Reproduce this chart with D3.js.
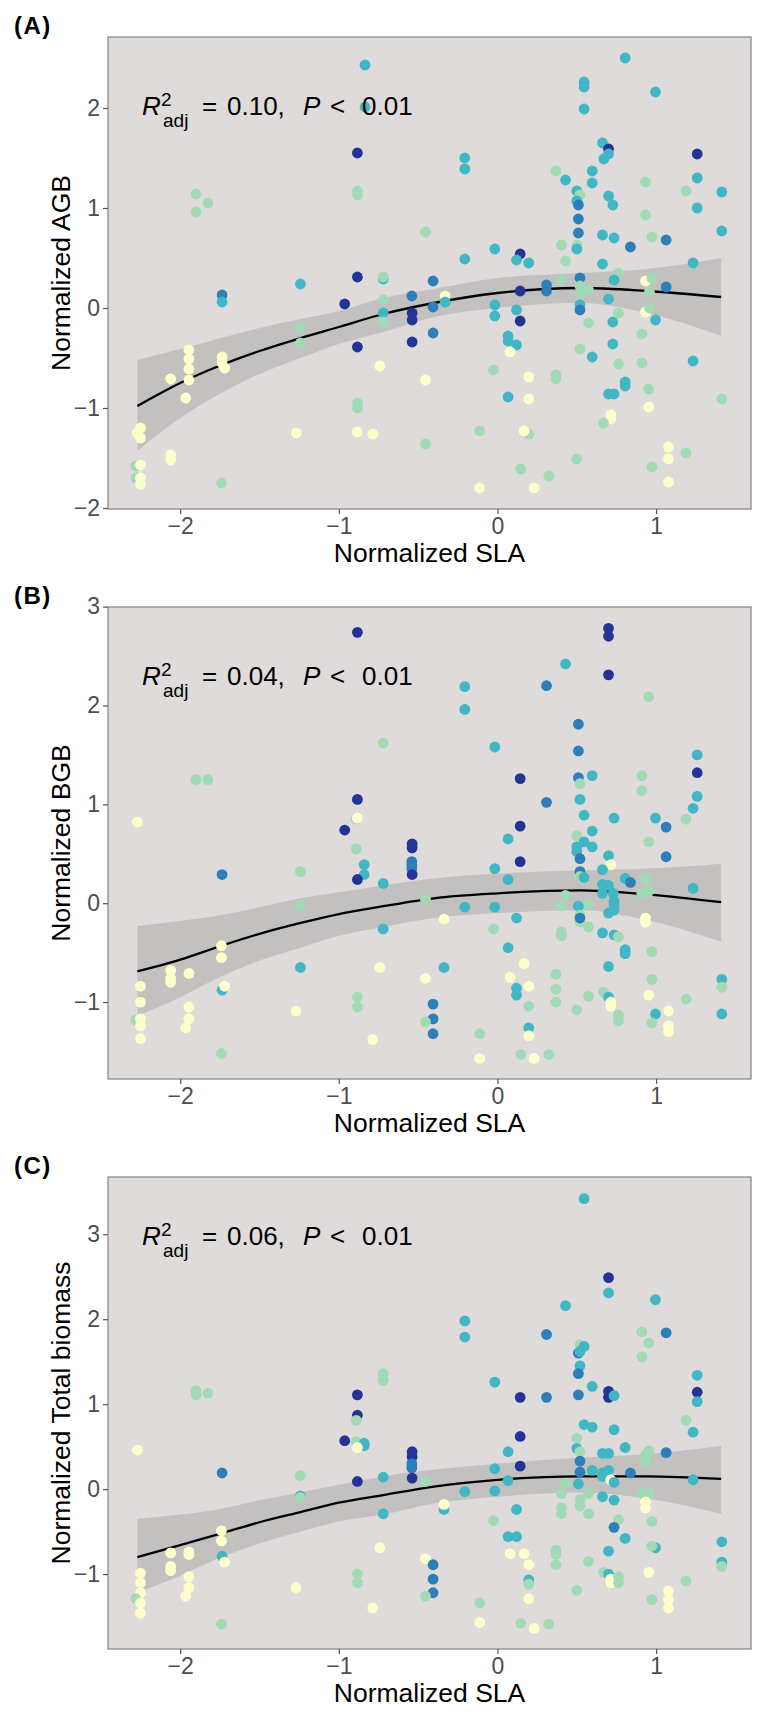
<!DOCTYPE html>
<html>
<head>
<meta charset="utf-8">
<script src="https://cdn.jsdelivr.net/npm/d3@7"></script>
<style>
  body { margin: 0; background: #fff; }
  svg text { font-family: "Liberation Sans", Arial, Helvetica, sans-serif; }
</style>
</head>
<body>
<div id="svg-area"></div>
<script>
// Site colours (YlGnBu, 5 classes) indexed by site group
var siteColors = ['#ffffcc', '#a1dab4', '#41b6c4', '#2c7fb8', '#253494'];

var xTicks = [-2, -1, 0, 1];
var xDomain = [-2.455, 1.598];

// PANEL A : AGB
var slaA = [-0.835,-0.835,-0.883,-0.883,-0.883,-1.90,-1.90,-1.825,-1.736,-1.736,
  -1.242,-0.883,-0.72,-0.72,-0.963,-0.72,-0.72,-0.72,-1.242,-1.242,
  -0.883,-0.742,-1.945,-1.945,-1.945,-1.945,-2.06,-1.965,-1.736,-1.736,
  -1.72,-0.883,-0.883,-1.268,-0.883,-0.786,-2.25,-2.27,-2.25,-2.28,
  -2.25,-2.28,-2.25,-2.25,-2.06,-2.06,-1.74,0.805,0.546,0.546,
  0.546,0.996,0.662,0.70,0.70,0.67,1.259,-0.206,-0.206,0.368,
  0.429,0.597,0.597,1.259,0.933,1.189,1.414,0.50,0.52,0.50,
  0.51,0.70,0.727,1.259,0.933,0.51,0.51,0.662,0.735,0.973,
  1.063,0.838,1.414,-0.454,0.403,0.50,0.50,-0.017,0.429,0.143,
  0.12,0.197,-0.206,0.662,1.233,0.763,-0.406,0.403,0.52,0.735,
  0.933,0.973,0.143,0.309,0.309,0.52,0.574,0.52,0.958,1.063,
  -0.54,-0.33,-0.33,0.70,-0.406,-0.017,0.52,0.52,-0.538,-0.538,
  -0.017,0.12,0.763,0.933,0.958,0.143,0.996,0.574,0.727,-0.538,
  -0.406,-0.454,-0.454,0.067,0.067,0.12,0.08,-0.025,0.197,0.368,
  0.368,0.067,0.197,-0.112,0.197,0.168,0.147,0.323,-0.112,0.231,
  0.50,0.52,0.597,0.727,0.763,0.91,0.91,0.805,0.805,0.70,
  0.735,0.953,0.953,0.714,0.714,0.668,1.078,1.078,1.078,1.189,
  0.973,1.233,1.414];
var agb = [2.43,2.01,1.55,1.17,1.13,1.14,0.96,1.05,0.13,0.06,
  0.24,0.31,0.29,0.31,0.04,0.08,-0.05,-0.14,-0.19,-0.35,
  -0.39,-0.58,-0.42,-0.51,-0.61,-0.72,-0.71,-0.90,-0.49,-0.55,
  -0.60,-0.95,-1.00,-1.25,-1.24,-1.26,-1.20,-1.25,-1.30,-1.58,
  -1.57,-1.70,-1.70,-1.76,-1.47,-1.52,-1.75,2.50,2.26,2.21,
  1.99,2.16,1.65,1.59,1.54,1.49,1.54,1.50,1.39,1.37,
  1.28,1.37,1.25,1.30,1.26,1.17,1.16,1.17,1.13,1.07,
  1.03,1.12,1.03,1.00,0.93,0.89,0.75,0.73,0.70,0.71,
  0.68,0.61,0.77,0.76,0.63,0.63,0.59,0.59,0.47,0.54,
  0.48,0.45,0.49,0.44,0.45,0.35,0.27,0.28,0.30,0.28,
  0.27,0.30,0.17,0.23,0.17,0.22,0.18,0.15,0.16,0.21,
  0.12,0.12,0.06,0.09,0.01,0.03,0.03,-0.02,-0.05,-0.12,
  -0.08,-0.02,-0.05,-0.04,0.00,-0.13,-0.12,-0.15,-0.14,-0.34,
  -0.25,-0.72,-1.36,-0.28,-0.33,-0.37,-0.44,-0.62,-0.69,-0.67,
  -0.71,-0.89,-0.91,-1.23,-1.26,-1.23,-1.61,-1.68,-1.80,-1.80,
  -1.51,-0.41,-0.49,-0.36,-0.56,-0.26,-0.55,-0.74,-0.78,-0.86,
  -0.86,-0.81,-0.99,-1.07,-1.11,-1.15,-1.39,-1.51,-1.74,-1.45,
  -1.59,-0.53,-0.91];
var siteA = [2,2,4,1,1,1,1,1,3,2, 2,4,2,1,4,1,2,1,1,1, 4,0,0,0,0,0,0,0,0,0,
  0,1,1,0,0,0,0,0,0,1, 0,1,0,0,0,0,1,2,2,2, 2,2,2,4,2,2,4,2,2,1,
  2,2,2,2,1,1,2,2,1,2, 3,2,2,2,1,3,3,2,2,1, 3,3,2,1,1,1,2,2,1,4,
  2,2,2,2,2,1,3,1,3,2, 0,1,4,3,3,1,1,1,1,3, 3,0,2,2,3,2,2,3,4,4,
  2,2,1,0,1,4,2,1,2,4, 3,0,1,2,2,2,0,1,0,1, 1,2,0,1,1,0,1,1,0,0,
  1,1,2,2,1,1,1,2,2,2, 2,1,0,0,0,1,0,0,0,1, 1,2,1];

// PANEL B : BGB
var slaB = [-0.883,-0.72,-1.90,-1.825,-2.27,-0.883,-0.89,-0.883,-0.963,-0.89,
  -0.84,-0.84,-1.736,-1.242,-0.883,-0.72,-1.242,-0.72,-1.74,-1.74,
  -1.736,-1.72,-1.242,-0.742,-2.06,-2.06,-2.06,-1.945,-2.25,-2.25,
  -1.945,-0.883,-0.883,-1.27,-2.28,-2.25,-2.25,-1.945,-1.965,-2.25,
  -0.786,-1.74,0.70,0.70,0.70,0.429,0.309,-0.206,-0.206,0.953,
  0.51,0.51,-0.017,1.259,1.259,1.259,1.233,1.189,0.91,0.91,
  0.143,0.51,0.52,0.597,0.309,0.52,0.546,0.735,0.996,1.063,
  1.063,0.953,0.143,0.597,0.50,0.067,0.143,0.546,0.50,0.50,
  0.597,0.52,0.70,0.714,0.662,0.52,0.52,0.546,0.805,0.838,
  0.933,-0.017,0.067,-0.538,-0.538,-0.54,-0.54,-0.54,-0.538,0.662,
  0.70,1.233,0.73,0.662,0.91,0.953,0.429,-0.454,-0.206,-0.017,
  -0.337,0.12,0.403,0.574,0.51,0.52,0.52,0.52,0.574,0.735,
  0.735,0.735,0.70,0.933,0.933,-0.025,0.403,0.403,0.662,0.735,
  0.763,0.067,0.805,0.805,0.973,-0.337,-0.454,0.70,0.168,0.08,
  0.197,0.12,0.12,0.368,0.368,0.368,0.973,0.953,0.668,0.70,
  0.714,0.714,0.574,0.197,0.50,-0.406,-0.406,-0.406,-0.454,0.763,
  0.763,0.996,0.973,1.078,1.078,1.078,1.189,1.414,1.414,1.414,
  0.197,0.197,-0.112,-0.112,0.147,0.231,0.323];
var bgb = [2.74,1.62,1.25,1.25,0.82,1.05,0.85,0.86,0.74,0.55,
  0.39,0.29,0.29,0.32,0.24,0.20,-0.02,-0.26,-0.43,-0.55,
  -0.88,-0.84,-0.65,-0.65,-0.68,-0.76,-0.80,-0.71,-0.84,-1.00,
  -1.05,-0.95,-1.05,-1.09,-1.18,-1.17,-1.24,-1.17,-1.26,-1.37,
  -1.38,-1.52,2.78,2.70,2.31,2.42,2.20,2.19,1.96,2.09,
  1.81,1.54,1.58,1.50,1.32,1.08,0.96,0.85,1.29,1.14,
  1.26,1.27,1.21,1.29,1.02,1.05,0.89,0.86,0.86,0.77,
  0.47,0.62,0.78,0.73,0.68,0.65,0.42,0.62,0.57,0.52,
  0.57,0.45,0.48,0.39,0.34,0.32,0.27,0.26,0.25,0.21,
  0.25,0.35,0.24,0.60,0.56,0.42,0.39,0.35,0.29,0.19,
  0.18,0.15,0.10,0.10,0.10,0.12,0.08,0.04,-0.04,-0.04,
  -0.16,-0.15,-0.03,-0.01,-0.03,-0.12,-0.19,-0.15,-0.24,0.02,
  -0.02,-0.07,-0.10,-0.15,-0.19,-0.26,-0.29,-0.33,-0.30,-0.32,
  -0.34,-0.45,-0.47,-0.51,-0.49,-0.65,-0.76,-0.64,-0.61,-0.75,
  -0.84,-0.86,-0.93,-0.72,-0.87,-1.00,-0.77,-0.93,-0.90,-0.95,
  -1.00,-1.04,-0.94,-1.04,-1.08,-1.02,-1.17,-1.32,-1.20,-1.13,
  -1.19,-1.12,-1.21,-1.09,-1.24,-1.30,-0.97,-0.77,-0.85,-1.12,
  -1.26,-1.34,-1.32,-1.57,-1.53,-1.57,-1.53];
var siteB = [4,1,1,1,0,4,1,0,4,1, 2,2,3,1,4,2,1,2,0,0, 2,0,2,0,0,0,0,0,0,0,
  0,1,1,0,1,0,0,0,0,0, 0,1,4,4,4,2,3,2,2,1, 3,3,2,2,4,2,2,1,1,1,
  4,3,1,2,3,2,2,2,2,3, 3,1,4,2,1,2,4,2,2,2, 2,3,2,0,2,3,1,2,2,3,
  1,2,2,4,4,3,3,3,4,2, 2,2,2,2,1,1,1,1,2,2, 0,2,1,1,2,1,1,3,1,2,
  2,2,2,0,0,1,1,1,2,2, 1,2,2,2,1,2,0,2,0,0, 0,2,2,1,1,1,1,0,1,2,
  0,0,1,1,1,3,3,3,1,1, 1,2,1,0,0,0,1,2,1,2, 2,0,1,0,1,0,1];

// PANEL C : total biomass
var slaC = [-1.90,-1.90,-1.825,-0.883,-0.72,-0.72,0.546,0.70,0.70,0.429,
  0.996,-0.206,-0.206,0.309,1.063,0.91,0.953,0.91,0.52,0.546,
  0.51,0.52,0.52,0.51,0.597,-0.017,0.143,0.309,0.51,0.70,
  0.70,0.735,1.259,1.259,1.259,-0.883,-0.89,-0.963,-0.89,-0.84,
  -0.84,-0.883,-2.27,-1.736,-1.242,-0.72,-0.883,-1.242,-1.242,-0.72,
  -1.74,-1.74,-1.736,-1.72,-0.742,-2.06,-1.945,-1.945,-2.06,-2.06,
  -2.25,-2.25,-1.945,-1.945,-1.965,-2.25,-2.28,-2.25,-2.25,-0.883,
  -0.883,-1.27,-0.786,-1.74,1.189,1.233,0.546,0.597,0.735,0.143,
  0.50,0.50,0.52,0.805,0.067,0.662,0.70,0.933,0.953,0.933,
  1.063,-0.538,-0.538,-0.54,-0.54,-0.538,0.52,0.143,0.52,0.597,
  -0.017,0.662,0.70,0.662,0.714,0.838,1.233,-0.454,0.067,0.429,
  0.51,0.735,-0.206,-0.017,0.403,0.574,0.91,0.958,0.662,0.735,
  0.52,0.52,0.933,0.933,-0.337,-0.337,0.403,0.403,0.574,0.12,
  -0.025,0.763,0.973,0.735,0.067,0.12,0.805,0.996,0.973,0.70,
  -0.454,-0.406,-0.406,-0.406,-0.454,0.08,0.168,0.197,0.368,0.368,
  0.368,0.574,1.414,1.414,1.414,0.953,0.668,0.70,0.714,0.714,
  0.763,0.763,0.197,0.197,0.197,1.189,1.078,1.078,1.078,0.973,
  0.50,-0.112,-0.112,0.147,0.231,0.323];
var totalBiomass = [1.16,1.11,1.13,1.11,1.36,1.28,3.42,2.49,2.31,2.16,
  2.23,1.98,1.79,1.82,1.84,1.85,1.72,1.56,1.70,1.68,
  1.60,1.62,1.45,1.36,1.21,1.26,1.08,1.08,1.11,1.15,
  1.08,1.10,1.34,1.14,1.03,0.87,0.81,0.57,0.56,0.54,
  0.51,0.49,0.46,0.19,0.16,0.14,0.09,-0.08,-0.10,-0.29,
  -0.49,-0.61,-0.79,-0.86,-0.69,-0.75,-0.74,-0.77,-0.91,-0.96,
  -0.99,-1.10,-1.03,-1.16,-1.26,-1.22,-1.29,-1.34,-1.46,-1.00,
  -1.10,-1.16,-1.40,-1.59,0.81,0.67,0.76,0.73,0.70,0.62,
  0.60,0.48,0.44,0.49,0.44,0.42,0.42,0.40,0.45,0.32,
  0.43,0.44,0.38,0.30,0.25,0.13,0.33,0.27,0.20,0.22,
  0.24,0.19,0.22,0.15,0.11,0.19,0.11,0.09,0.10,0.07,
  0.06,0.08,-0.03,-0.02,-0.05,-0.05,-0.05,-0.05,-0.09,-0.13,
  -0.12,-0.20,-0.15,-0.22,-0.24,-0.18,-0.22,-0.29,-0.29,-0.24,
  -0.37,-0.36,-0.38,-0.45,-0.56,-0.56,-0.58,-0.69,-0.67,-0.73,
  -0.82,-0.89,-1.06,-1.22,-1.26,-0.76,-0.76,-0.89,-0.72,-0.77,
  -0.89,-0.85,-0.62,-0.86,-0.91,-0.98,-0.98,-1.00,-1.06,-1.10,
  -1.03,-1.10,-1.07,-1.12,-1.29,-1.08,-1.20,-1.30,-1.40,-1.30,
  -1.19,-1.34,-1.57,-1.58,-1.64,-1.59];
var siteC = [1,1,1,4,1,1,2,4,2,2, 2,2,2,3,3,1,1,1,1,2, 3,2,2,3,2,2,4,3,3,4,
  4,2,2,4,2,4,1,4,1,2, 2,0,0,3,1,2,4,2,1,2, 0,0,2,0,0,0,0,0,0,0,
  0,0,0,0,0,0,1,0,0,1, 1,0,0,1,1,2,2,2,2,4, 1,2,1,2,2,2,2,1,1,1,
  3,4,4,3,3,4,3,4,3,2, 2,2,2,2,0,3,2,1,2,1, 2,2,2,2,1,1,1,1,2,2,
  1,1,0,0,2,0,1,1,1,2, 1,1,1,3,2,2,2,2,1,2, 0,3,3,3,1,0,0,0,1,1,
  1,1,2,2,1,0,1,2,0,0, 1,1,2,1,0,1,0,0,0,1, 1,1,0,1,0,1];

// Quadratic fit and 95% band
var fitX  = [-2.27, -2.0, -1.74, -1.5, -1.24, -1.0, -0.72, -0.4, 0.0, 0.52, 0.94, 1.41];
var fitA  = [-0.98, -0.75, -0.57, -0.43, -0.30, -0.19, -0.06, 0.05, 0.15, 0.20, 0.17, 0.11];
var highA = [-0.52, -0.41, -0.30, -0.20, -0.11, -0.03, 0.10, 0.19, 0.30, 0.35, 0.39, 0.50];
var lowA  = [-1.43, -1.10, -0.85, -0.66, -0.50, -0.36, -0.24, -0.09, 0.00, 0.05, -0.05, -0.28];
var fitB  = [-0.69, -0.57, -0.43, -0.31, -0.20, -0.11, -0.03, 0.05, 0.10, 0.13, 0.09, 0.01];
var highB = [-0.23, -0.18, -0.12, -0.04, 0.05, 0.11, 0.18, 0.25, 0.30, 0.33, 0.35, 0.40];
var lowB  = [-1.14, -0.95, -0.74, -0.58, -0.45, -0.33, -0.24, -0.15, -0.10, -0.07, -0.17, -0.39];
var fitC  = [-0.80, -0.66, -0.52, -0.39, -0.27, -0.16, -0.07, 0.03, 0.11, 0.15, 0.15, 0.12];
var highC = [-0.35, -0.30, -0.23, -0.13, -0.04, 0.05, 0.15, 0.23, 0.30, 0.37, 0.41, 0.51];
var lowC  = [-1.22, -1.02, -0.80, -0.64, -0.50, -0.38, -0.30, -0.17, -0.09, -0.04, -0.11, -0.29];

var panelLabels = ['(A)', '(B)', '(C)'];
var yTitles = ['Normalized AGB', 'Normalized BGB', 'Normalized Total biomass'];
var r2Labels = ['0.10', '0.04', '0.06'];
var pLabel = '0.01';
var yDomains = [[-2.01, 2.71], [-1.778, 2.996], [-1.882, 3.674]];
var yTickSets = [[-2, -1, 0, 1, 2], [-1, 0, 1, 2, 3], [-1, 0, 1, 2, 3]];

// Layout
var svgWidth = 768, svgHeight = 1715;
var plotLeft = 108, plotRight = 751, plotHeight = 472;
var panelTops = [37, 607, 1177];
var annoOffsets = [78, 78, 68];

var panels = [
  { x: slaA, y: agb, site: siteA, fit: fitA, low: lowA, high: highA },
  { x: slaB, y: bgb, site: siteB, fit: fitB, low: lowB, high: highB },
  { x: slaC, y: totalBiomass, site: siteC, fit: fitC, low: lowC, high: highC }
];

// CREATE SVG
var svg = d3.select('#svg-area').append('svg')
  .attr( 'width', svgWidth )
  .attr( 'height', svgHeight );

svg.append( 'rect' )
  .attr( 'width', svgWidth )
  .attr( 'height', svgHeight )
  .attr( 'fill', '#ffffff' );

var x = d3.scaleLinear().domain( xDomain ).range( [plotLeft, plotRight] );
var fmt = d3.format( 'd' );

panels.forEach(function( p, i ){
  var top = panelTops[i];
  var y = d3.scaleLinear().domain( yDomains[i] ).range( [top + plotHeight, top] );
  var g = svg.append( 'g' );

  // panel background
  g.append( 'rect' )
    .attr( 'x', plotLeft )
    .attr( 'y', top )
    .attr( 'width', plotRight - plotLeft )
    .attr( 'height', plotHeight )
    .attr( 'fill', '#dfdbdb' );

  var band = fitX.map(function( fx, k ){ return { x: fx, fit: p.fit[k], lo: p.low[k], hi: p.high[k] }; });

  // confidence ribbon
  g.append( 'path' )
    .datum( band )
    .attr( 'd', d3.area()
      .x(function( d ){ return x(d.x); })
      .y0(function( d ){ return y(d.lo); })
      .y1(function( d ){ return y(d.hi); })
      .curve( d3.curveMonotoneX ) )
    .attr( 'fill', '#999999' )
    .attr( 'fill-opacity', 0.4 );

  // fitted curve
  g.append( 'path' )
    .datum( band )
    .attr( 'd', d3.line()
      .x(function( d ){ return x(d.x); })
      .y(function( d ){ return y(d.fit); })
      .curve( d3.curveMonotoneX ) )
    .attr( 'fill', 'none' )
    .attr( 'stroke', '#000' )
    .attr( 'stroke-width', 2.3 );

  // points
  g.append( 'g' )
    .selectAll( 'circle' )
    .data( p.x.map(function( v, k ){ return { x: v, y: p.y[k], s: p.site[k] }; }) )
    .enter().append( 'circle' )
    .attr( 'cx', function( d ){ return x(d.x); })
    .attr( 'cy', function( d ){ return y(d.y); })
    .attr( 'r', 5.4 )
    .attr( 'fill', function( d ){ return siteColors[d.s]; });

  // panel border
  g.append( 'rect' )
    .attr( 'x', plotLeft )
    .attr( 'y', top )
    .attr( 'width', plotRight - plotLeft )
    .attr( 'height', plotHeight )
    .attr( 'fill', 'none' )
    .attr( 'stroke', '#8a8a8a' )
    .attr( 'stroke-width', 1.3 );

  // axes
  var xAxis = g.append( 'g' )
    .attr( 'transform', 'translate(0,' + (top + plotHeight) + ')' )
    .call( d3.axisBottom( x ).tickValues( xTicks ).tickSize( 5 ).tickPadding( 4 ).tickFormat( fmt ) );
  var yAxis = g.append( 'g' )
    .attr( 'transform', 'translate(' + plotLeft + ',0)' )
    .call( d3.axisLeft( y ).tickValues( yTickSets[i] ).tickSize( 5 ).tickPadding( 3 ).tickFormat( fmt ) );

  [xAxis, yAxis].forEach(function( a ){
    a.select( '.domain' ).remove();
    a.selectAll( '.tick line' ).attr( 'stroke', '#555' ).attr( 'stroke-width', 1.2 );
    a.selectAll( '.tick text' )
      .attr( 'fill', '#4d4d4d' )
      .style( 'font-size', '23px' )
      .style( 'font-family', '"Liberation Sans", Arial, sans-serif' );
  });

  // axis titles
  g.append( 'text' )
    .attr( 'x', (plotLeft + plotRight) / 2 )
    .attr( 'y', top + plotHeight + 53 )
    .attr( 'text-anchor', 'middle' )
    .style( 'font-size', '26.5px' )
    .attr( 'fill', '#000' )
    .text( 'Normalized SLA' );

  g.append( 'text' )
    .attr( 'transform', 'translate(70,' + (top + plotHeight / 2) + ')rotate(-90)' )
    .attr( 'text-anchor', 'middle' )
    .style( 'font-size', '26.5px' )
    .attr( 'fill', '#000' )
    .text( yTitles[i] );

  // panel label
  g.append( 'text' )
    .attr( 'x', 14 )
    .attr( 'y', top - 3 )
    .style( 'font-size', '24px' )
    .style( 'font-weight', 'bold' )
    .style( 'letter-spacing', '1.5px' )
    .text( panelLabels[i] );

  // R2 annotation: R with stacked super/subscript, then the rest
  var base = top + annoOffsets[i];
  g.append( 'text' )
    .attr( 'x', 142 ).attr( 'y', base )
    .style( 'font-size', '26px' ).style( 'font-style', 'italic' )
    .text( 'R' );
  g.append( 'text' )
    .attr( 'x', 161 ).attr( 'y', base - 9 )
    .style( 'font-size', '19px' )
    .text( '2' );
  g.append( 'text' )
    .attr( 'x', 163 ).attr( 'y', base + 12 )
    .style( 'font-size', '19px' )
    .text( 'adj' );
  var t = g.append( 'text' )
    .attr( 'y', base )
    .style( 'font-size', '26px' )
    .attr( 'fill', '#000' );
  t.append( 'tspan' ).attr( 'x', 202 ).text( '=' );
  t.append( 'tspan' ).attr( 'x', 227 ).text( r2Labels[i] + ',' );
  t.append( 'tspan' ).attr( 'x', 303 ).style( 'font-style', 'italic' ).text( 'P' );
  t.append( 'tspan' ).attr( 'x', 330 ).text( '<' );
  t.append( 'tspan' ).attr( 'x', 362 ).text( pLabel );
});
</script>
</body>
</html>
